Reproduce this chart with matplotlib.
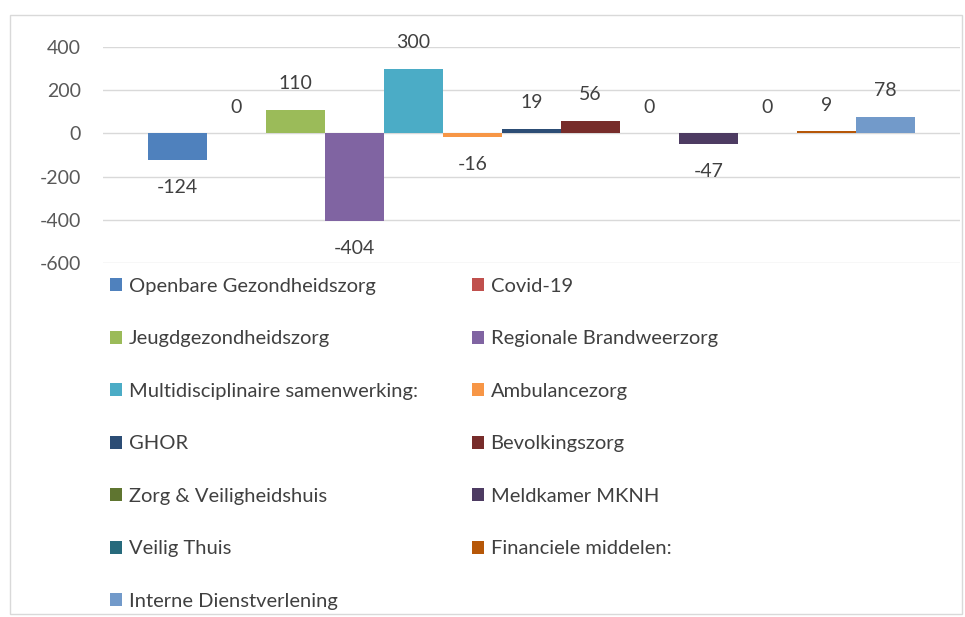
import matplotlib.pyplot as plt
from matplotlib.patches import Rectangle

plt.rcParams['font.family'] = ['Lato', 'DejaVu Sans']
plt.rcParams['axes.unicode_minus'] = False

series = ['Openbare Gezondheidszorg', 'Covid-19', 'Jeugdgezondheidszorg',
          'Regionale Brandweerzorg', 'Multidisciplinaire samenwerking:',
          'Ambulancezorg', 'GHOR', 'Bevolkingszorg', 'Zorg & Veiligheidshuis',
          'Meldkamer MKNH', 'Veilig Thuis', 'Financiele middelen:',
          'Interne Dienstverlening']
values = [-124, 0, 110, -404, 300, -16, 19, 56, 0, -47, 0, 9, 78]
colors = ['#4F81BD', '#C0504D', '#9BBB59', '#8064A2', '#4BACC6', '#F79646',
          '#2C4D75', '#772C2A', '#5F7530', '#4D3B62', '#276A7C', '#B65708',
          '#729ACA']
yticks = [400, 200, 0, -200, -400, -600]

fig = plt.figure(figsize=(9.65, 6.17), dpi=100)
fig.patches.append(Rectangle((10 / 965, 0.005), 952 / 965, 1 - 15 / 617 - 0.005,
                             transform=fig.transFigure, fill=False,
                             edgecolor='#D9D9D9', linewidth=1))

ax = fig.add_axes([103 / 965, 1 - 263 / 617, 857 / 965, 216 / 617])

group = 0.895
w = group / len(values)
handles = []
for i, (name, v, c) in enumerate(zip(series, values, colors)):
    x = -group / 2 + w * (i + 0.5)
    b = ax.bar(x, v, width=w, color=c, label=name, zorder=3)
    handles.append(b)
    off = -20 if v < 0 else 19
    ax.annotate(str(v), (x, v), xytext=(0, off), textcoords='offset points',
                ha='center', va='center', fontsize=14, color='#404040')

ax.set_xlim(-0.5, 0.5)
ax.set_ylim(-600, 400)
ax.set_yticks(yticks)
ax.set_xticks([])
ax.grid(axis='y', color='#D9D9D9', linewidth=1, zorder=0)
for s in ax.spines.values():
    s.set_visible(False)
ax.tick_params(axis='y', length=0, pad=16, labelsize=14, labelcolor='#595959')

leg_kw = dict(loc='upper left', frameon=False, fontsize=14.5, borderpad=0,
              borderaxespad=0, handlelength=0.62, handleheight=0.62,
              handletextpad=0.3, labelspacing=1.76, labelcolor='#404040')
left = handles[0::2]
right = handles[1::2]
fig.legend(left, [h.get_label() for h in left],
           bbox_to_anchor=(110 / 965, 1 - 278 / 617), **leg_kw)
fig.legend(right, [h.get_label() for h in right],
           bbox_to_anchor=(472 / 965, 1 - 278 / 617), **leg_kw)

fig.savefig('out.png', dpi=100)
